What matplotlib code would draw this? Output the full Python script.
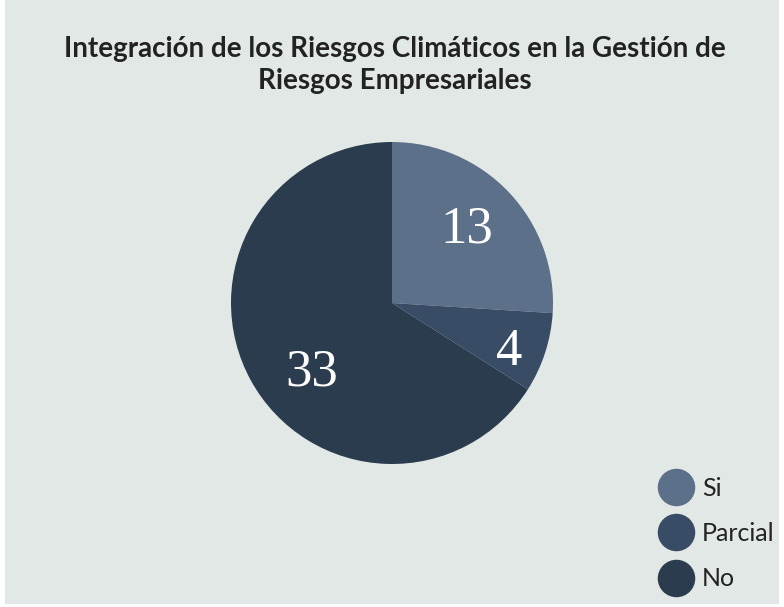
import numpy as np
import matplotlib.pyplot as plt
from matplotlib.patches import Rectangle
from matplotlib.lines import Line2D

# Datos
categorias = ['Si', 'Parcial', 'No']
valores = [13, 4, 33]
colores = ['#5d708a', '#394c65', '#2b3c4f']
titulo = 'Integración de los Riesgos Climáticos en la Gestión de\nRiesgos Empresariales'

# posicion de las etiquetas (radio relativo, desplazamiento angular en grados)
radio_etq = [0.65, 0.79, 0.66]
desp_etq = [1.4, -4.7, 12.4]

W, H = 784, 607
fig = plt.figure(figsize=(W / 100, H / 100), dpi=100)
fig.patch.set_facecolor('white')
fig.patches.append(Rectangle((5 / W, 3 / H), 774 / W, 604 / H, transform=fig.transFigure,
                             facecolor='#e2e8e6', edgecolor='none', zorder=-1))

fig.text(395 / W, 1 - 65 / H, titulo, ha='center', va='center', fontsize=20,
         fontweight='bold', family='Lato', color='#222222', linespacing=1.25)

# Pastel
r = 161
ax = fig.add_axes([(392 - r) / W, (H - 303 - r) / H, 2 * r / W, 2 * r / H], zorder=2)
ax.patch.set_alpha(0)
wedges, _ = ax.pie(valores, colors=colores, startangle=90, counterclock=False,
                   wedgeprops=dict(linewidth=0))
ax.set_xlim(-1, 1)
ax.set_ylim(-1, 1)
ax.axis('off')

total = sum(valores)
ang = 90
for i, v in enumerate(valores):
    medio = ang - 360 * v / total / 2
    ang -= 360 * v / total
    a = np.deg2rad(medio + desp_etq[i])
    ax.text(radio_etq[i] * np.cos(a), radio_etq[i] * np.sin(a), str(v),
            ha='center', va='center', fontsize=38, color='white', family='Liberation Serif')

# Leyenda
handles = [Line2D([], [], marker='o', linestyle='none', markersize=27,
                  markerfacecolor=c, markeredgecolor='none') for c in colores]
fig.legend(handles, categorias, loc='lower left', bbox_to_anchor=(628 / W, -6 / H),
           frameon=False, handletextpad=0.05, labelspacing=0.9,
           prop={'family': 'Lato', 'size': 18}, labelcolor='#222222')

fig.savefig('out.png', dpi=100, facecolor=fig.get_facecolor())
